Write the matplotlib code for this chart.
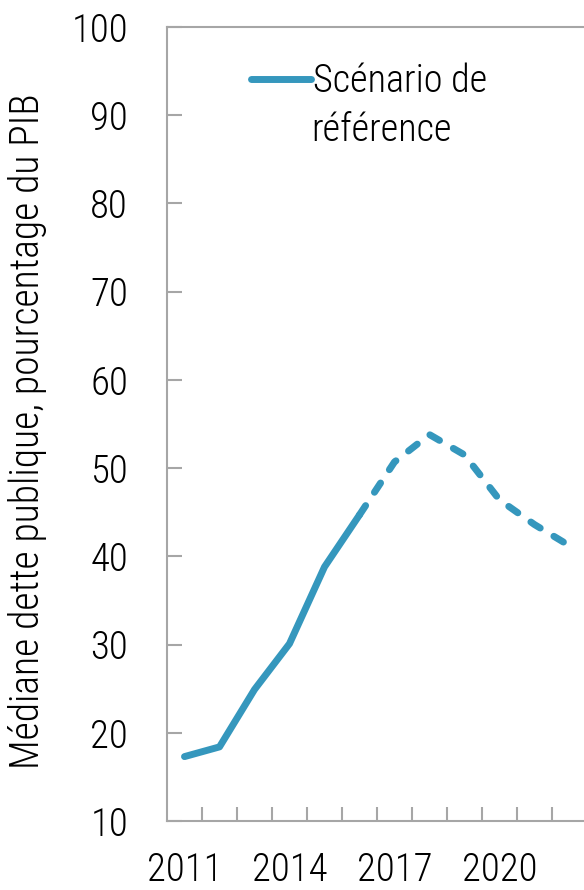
import matplotlib
matplotlib.use("Agg")
import matplotlib.pyplot as plt
from matplotlib.ticker import FixedLocator, NullFormatter

plt.rcParams['font.family'] = ['Roboto Condensed', 'Archivo Narrow', 'DejaVu Sans']
plt.rcParams['font.weight'] = 'light'
plt.rcParams['axes.labelweight'] = 'light'

# données
years = ["2011", "2012", "2013", "2014", "2015", "2016",
         "2017", "2018", "2019", "2020", "2021", "2022"]
dette = [17.3, 18.4, 24.9, 30.1, 38.8, 44.7,
         50.7, 53.8, 51.5, 46.4, 43.6, 41.2]
n_hist = 6  # 2011-2016 en trait plein, ensuite projection en pointillés
tick_labels = ["2011", "2014", "2017", "2020"]

color = "#3597bd"
grey = "#a6a6a6"

fig = plt.figure(figsize=(5.84, 8.9), dpi=100)
ax = fig.add_axes([167 / 584, 69 / 890, 420 / 584, 794 / 890])

x = list(range(len(years)))
ax.plot(x[:n_hist], dette[:n_hist], color=color, lw=5,
        solid_capstyle="round", solid_joinstyle="round", label="Scénario de")
ax.plot(x[n_hist - 1:], dette[n_hist - 1:], color=color, lw=5,
        dashes=(1.6, 2.3), dash_capstyle="round", dash_joinstyle="round")

ax.set_xlim(-0.5, len(years) - 0.5)
ax.set_ylim(10, 100)
ax.set_yticks(range(10, 101, 10))

major = [years.index(t) for t in tick_labels]
ax.xaxis.set_major_locator(FixedLocator(major))
ax.set_xticklabels(tick_labels)
ax.xaxis.set_minor_locator(FixedLocator([i + 0.5 for i in range(len(years))]))
ax.xaxis.set_minor_formatter(NullFormatter())

ax.tick_params(axis="x", which="major", length=0, pad=22, labelsize=28)
ax.tick_params(axis="x", which="minor", direction="in", length=10,
               width=1.5, color=grey)
ax.tick_params(axis="y", direction="in", length=11, width=1.5,
               color=grey, pad=28, labelsize=28)

for s in ax.spines.values():
    s.set_color(grey)
    s.set_linewidth(1.5)

ax.set_ylabel("Médiane dette publique, pourcentage du PIB", fontsize=28.5)
ax.yaxis.set_label_coords(-0.285, 0.491)

ax.legend(loc="upper left", bbox_to_anchor=(0.163, 0.974), frameon=False,
          fontsize=27.5, handlelength=1.57, handletextpad=0.05,
          borderaxespad=0)
ax.text(0.343, 0.893, "référence", transform=ax.transAxes, fontsize=27.5,
        va="top", ha="left")

fig.savefig("out.png", dpi=100)
